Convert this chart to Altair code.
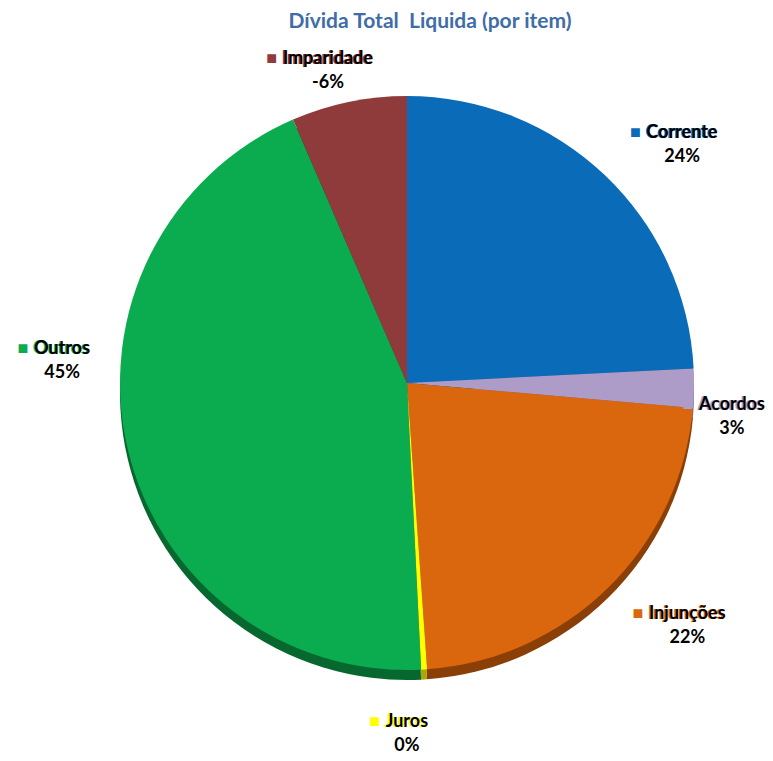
import math
import altair as alt
import pandas as pd

TITLE = "Dívida Total\u00a0 Liquida (por item)"
names = ["Corrente", "Acordos", "Injunções", "Juros", "Outros", "Imparidade"]
shares = [24.2, 2.2, 22.5, 0.33, 44.3, 6.5]
labels = ["24%", "3%", "22%", "0%", "45%", "-6%"]
colors = ["#0A6CB8", "#AE9CC8", "#DA660D", "#FFFF00", "#0BAB50", "#8F3B3B"]
shades = ["#064A82", "#776A8C", "#8A3F07", "#A8A800", "#07682F", "#5C2424"]

# label nudges (px) relative to mid-angle position
nudges = {
    "Corrente": (25, 16),
    "Acordos": (-34, 28),
    "Injunções": (26, -7),
    "Juros": (-30, 2),
    "Outros": (-13, -101),
    "Imparidade": (-17, 31),
}

df = pd.DataFrame({
    "idx": list(range(len(names))),
    "name": names,
    "share": shares,
    "pct": labels,
    "col": colors,
    "shade": shades,
})
df["sq"] = "■ " + df["name"]
TOTAL = float(sum(shares))

CX, CY, R = 399, 375, 287
LAB_R = 350
FONT = "Lato"
FS = 18
SQ_SHIFT = 9

sc = alt.Scale(domain=[0, TOTAL], range=[0, 2 * math.pi])

base = alt.Chart(df).transform_stack(
    stack="share", as_=["t0", "t1"], groupby=[],
    sort=[alt.SortField("idx", order="ascending")]
).transform_calculate(mid="(datum.t0 + datum.t1) / 2")

shadow = base.mark_arc(radius=R).encode(
    theta=alt.Theta("t0:Q", scale=sc),
    theta2="t1:Q",
    color=alt.Color("shade:N", scale=None),
    x=alt.value(CX), y=alt.value(CY + 10),
)
pie = base.mark_arc(radius=R).encode(
    theta=alt.Theta("t0:Q", scale=sc),
    theta2="t1:Q",
    color=alt.Color("col:N", scale=None),
    x=alt.value(CX), y=alt.value(CY),
)

layers = [shadow, pie]
for n in names:
    nx, ny = nudges[n]
    lay = base.transform_filter(alt.datum.name == n)
    common = dict(radius=LAB_R, font=FONT, fontSize=FS, fontWeight="bold",
                  align="center", baseline="middle")
    enc = dict(theta=alt.Theta("mid:Q", scale=sc, stack=False),
               x=alt.value(CX), y=alt.value(CY))
    layers.append(lay.mark_text(dx=nx, dy=ny - 12, **common).encode(
        text="sq:N", color=alt.Color("col:N", scale=None), **enc))
    layers.append(lay.mark_text(dx=nx + SQ_SHIFT, dy=ny - 12, color="#000000", **common).encode(
        text="name:N", **enc))
    layers.append(lay.mark_text(dx=nx + SQ_SHIFT, dy=ny + 12, color="#000000", **common).encode(
        text="pct:N", **enc))

title = alt.Chart(pd.DataFrame({"t": [TITLE]})).mark_text(
    font=FONT, fontSize=21, fontWeight="bold", color="#3E6DA8",
    align="center", baseline="middle"
).encode(text="t:N", x=alt.value(422), y=alt.value(14))
layers.append(title)

chart = alt.layer(*layers).properties(
    width=757, height=745, autosize="none", padding=0
).configure_view(stroke=None)

chart.save("out.html", embed_options={"renderer": "svg", "actions": False})
